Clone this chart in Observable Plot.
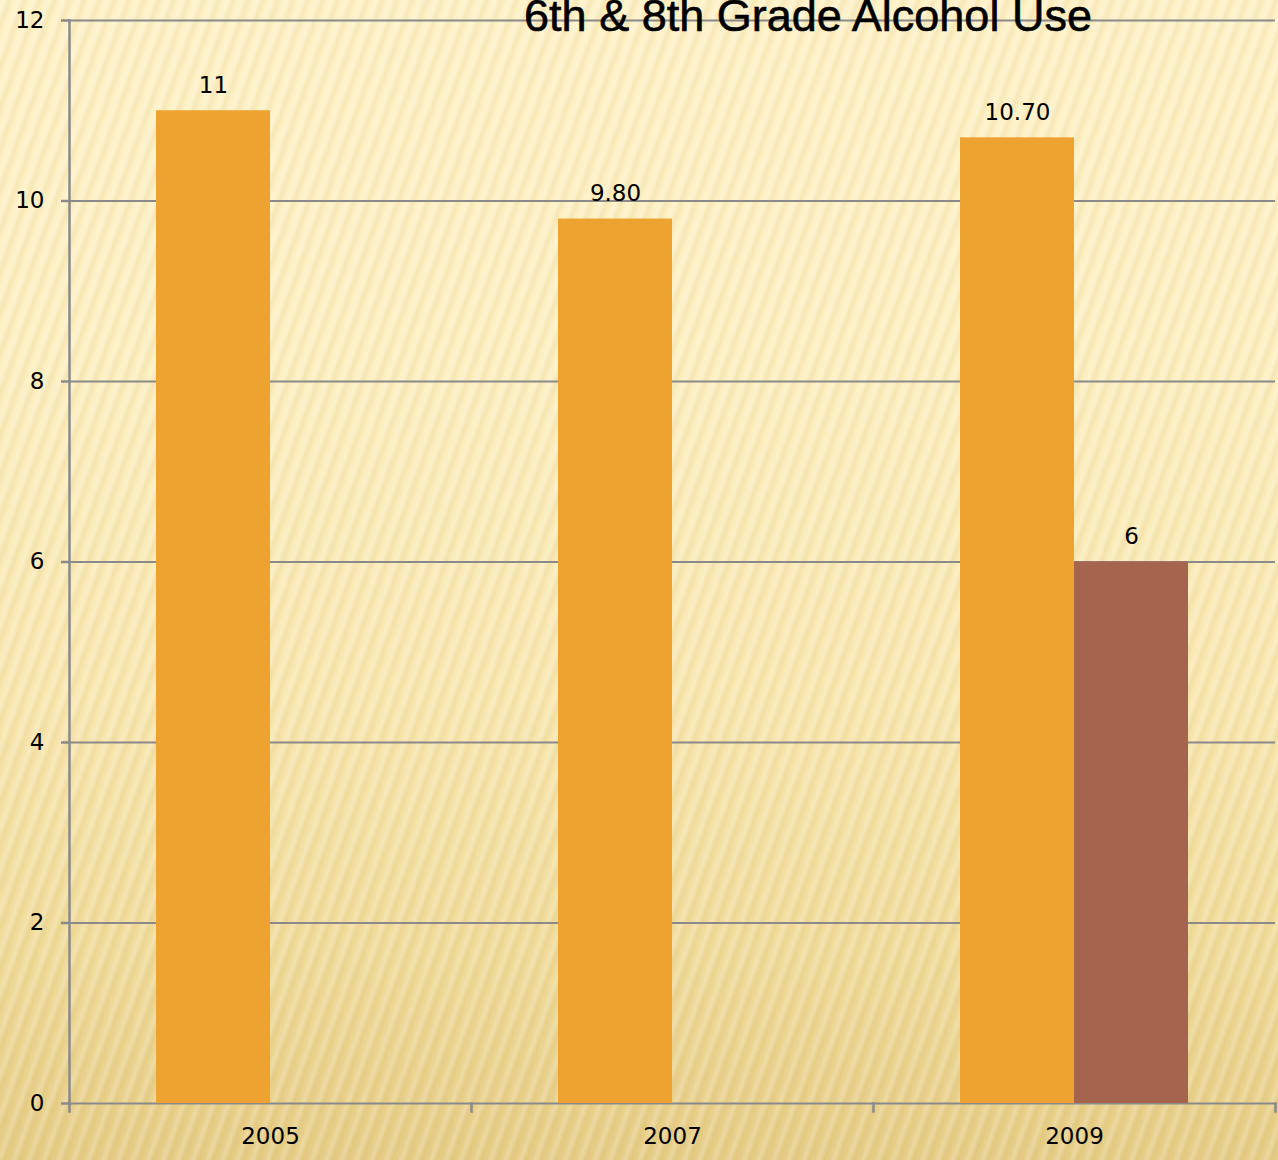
<!DOCTYPE html>
<html><head><meta charset="utf-8">
<script src="https://cdn.jsdelivr.net/npm/d3@7"></script>
<script src="https://cdn.jsdelivr.net/npm/@observablehq/plot@0.6"></script>
<style>
html,body{margin:0;padding:0;}
#wrap{position:relative;width:1278px;height:1160px;overflow:hidden;
background:
 repeating-linear-gradient(110deg, rgba(255,255,255,0) 0px, rgba(255,255,255,0.20) 4px, rgba(190,150,50,0.11) 9px, rgba(255,255,255,0) 14px),
 linear-gradient(180deg,#fef2c8 0%,#fdf0c3 30%,#f9e8b2 60%,#f0dc9c 82%,#e6cd87 100%);}
#title{position:absolute;left:338px;width:940px;top:-7px;text-align:center;font-family:"Liberation Sans",Arial,sans-serif;font-size:45px;line-height:45px;color:#000;z-index:2;white-space:nowrap;-webkit-text-stroke:0.6px #000;}
#chart{position:absolute;left:0;top:0;z-index:1;}
</style>
</head><body>
<div id="wrap"><div id="chart"></div><div id="title"></div></div>
<script>
const title = "6th & 8th Grade Alcohol Use";
const years = ["2005", "2007", "2009"];
const series = ["6th Grade", "8th Grade"];
const grade6 = [11, 9.8, 10.7];
const grade8 = [null, null, 6];
const labels6 = ["11", "9.80", "10.70"];
const labels8 = [null, null, "6"];
const yTicks = [0, 2, 4, 6, 8, 10, 12];
const colors = ["#EEA22F", "#A4644E"];

const data = [];
years.forEach((yr, i) => {
  if (grade6[i] != null) data.push({year: yr, series: series[0], value: grade6[i], label: labels6[i]});
  if (grade8[i] != null) data.push({year: yr, series: series[1], value: grade8[i], label: labels8[i]});
});

document.getElementById("title").textContent = title;

const W = 1278, H = 1160, mt = 20, mb = 57;
const frameH = H - mt - mb;
const grey = "#8a8a8a";
const fs = 23;

const chart = Plot.plot({
  width: W, height: H,
  marginLeft: 68, marginTop: mt, marginRight: 3, marginBottom: mb,
  style: {background: "transparent", fontFamily: "'DejaVu Sans', sans-serif", fontSize: fs + "px", color: "#000", overflow: "visible"},
  fx: {domain: years, padding: 0, label: null},
  x: {domain: series, paddingInner: 0, paddingOuter: 0.75, axis: null},
  y: {domain: [0, 12], axis: null},
  color: {domain: series, range: colors},
  marks: [
    Plot.ruleY(yTicks, {stroke: grey, strokeWidth: 2}),
    Plot.barY(data, {fx: "year", x: "series", y: "value", fill: "series"}),
    Plot.text(data, {fx: "year", x: "series", y: "value", text: "label", dy: -18, lineAnchor: "bottom", fill: "#000", fontSize: fs}),
    Plot.frame({anchor: "left", facetAnchor: "left", stroke: grey, strokeWidth: 2.5}),
    Plot.frame({anchor: "left", insetTop: frameH, insetBottom: -8, stroke: grey, strokeWidth: 2.5}),
    Plot.frame({anchor: "right", facetAnchor: "right", insetTop: frameH, insetBottom: -8, stroke: grey, strokeWidth: 2.5}),
    Plot.axisY({ticks: yTicks, tickSize: 8, tickPadding: 17, stroke: grey, strokeWidth: 2.5, label: null, fontSize: fs}),
    Plot.axisFx({anchor: "bottom", tickSize: 0, tickPadding: 24, label: null, fontSize: fs})
  ]
});
document.getElementById("chart").appendChild(chart);
</script>
</body></html>
